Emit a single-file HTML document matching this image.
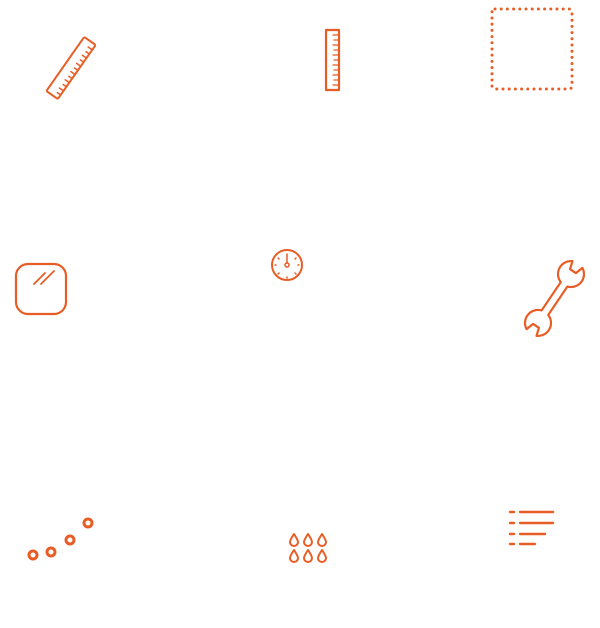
<!DOCTYPE html>
<html><head><style>html,body{margin:0;padding:0;background:#fff;width:600px;height:628px;overflow:hidden}</style></head>
<body>
<svg width="600" height="628" viewBox="0 0 600 628" xmlns="http://www.w3.org/2000/svg" fill="none" stroke="#e85d25" stroke-width="2" stroke-linecap="round" stroke-linejoin="round">
<!-- ruler 1 -->
<g transform="translate(71,68) rotate(35)">
<rect x="-7" y="-33" width="14" height="66" rx="1.5"/>
<g stroke-width="1.5">
<line x1="7" y1="-27" x2="2" y2="-27"/><line x1="7" y1="-22" x2="3" y2="-22"/>
<line x1="7" y1="-17" x2="2" y2="-17"/><line x1="7" y1="-12" x2="3" y2="-12"/>
<line x1="7" y1="-7" x2="2" y2="-7"/><line x1="7" y1="-2" x2="3" y2="-2"/>
<line x1="7" y1="3" x2="2" y2="3"/><line x1="7" y1="8" x2="3" y2="8"/>
<line x1="7" y1="13" x2="2" y2="13"/><line x1="7" y1="18" x2="3" y2="18"/>
<line x1="7" y1="23" x2="2" y2="23"/><line x1="7" y1="28" x2="3" y2="28"/>
</g></g>
<!-- ruler 2 -->
<rect x="326" y="30" width="13" height="60" stroke-width="2.2" stroke-linecap="butt"/>
<g stroke-width="1.3">
<line x1="338" y1="35" x2="333" y2="35"/><line x1="338" y1="40" x2="334" y2="40"/>
<line x1="338" y1="45" x2="333" y2="45"/><line x1="338" y1="50" x2="334" y2="50"/>
<line x1="338" y1="55" x2="333" y2="55"/><line x1="338" y1="60" x2="334" y2="60"/>
<line x1="338" y1="65" x2="333" y2="65"/><line x1="338" y1="70" x2="334" y2="70"/>
<line x1="338" y1="75" x2="333" y2="75"/><line x1="338" y1="80" x2="334" y2="80"/>
<line x1="338" y1="85" x2="333" y2="85"/>
</g>
<!-- dotted square -->
<rect x="492" y="9" width="80" height="80" rx="3" stroke-width="3" stroke-dasharray="0 6.2"/>
<!-- rounded square -->
<rect x="16" y="264" width="50" height="50" rx="12" stroke-width="2.2"/>
<line x1="34" y1="284" x2="45" y2="273" stroke-width="1.8"/>
<line x1="41" y1="284" x2="54" y2="271" stroke-width="1.8"/>
<!-- gauge -->
<circle cx="287" cy="265" r="15"/>
<circle cx="287" cy="265" r="2" stroke-width="1.5"/>
<line x1="287" y1="263" x2="287" y2="254" stroke-width="1.5"/>
<g stroke-width="1.5">
<line x1="278" y1="258" x2="279" y2="259"/><line x1="296" y1="258" x2="295" y2="259"/>
<line x1="275" y1="265" x2="276" y2="265"/><line x1="299" y1="265" x2="298" y2="265"/>
<line x1="278" y1="274" x2="279" y2="273"/><line x1="296" y1="274" x2="295" y2="273"/>
<line x1="287" y1="278" x2="287" y2="277"/>
</g>
<!-- wrench -->
<g transform="translate(554.5,298.5) rotate(34)">
<path d="M-6 -41 L-3.5 -33 L3.5 -33 L6 -41 A13 13 0 0 1 4 -17.1 L4 17.1 A13 13 0 0 1 6 41 L3.5 33 L-3.5 33 L-6 41 A13 13 0 0 1 -4 17.1 L-4 -17.1 A13 13 0 0 1 -6 -41 Z" stroke-width="2.2"/>
</g>
<!-- dots -->
<g stroke-width="3">
<circle cx="33" cy="555" r="4"/><circle cx="51" cy="552" r="4"/>
<circle cx="70" cy="540" r="4"/><circle cx="88" cy="523" r="4"/>
</g>
<!-- drops -->
<g stroke-width="2">
<path id="d" d="M294 534 Q290 540 290 542 A4 4 0 0 0 298 542 Q298 540 294 534 Z"/>
<use href="#d" x="14"/><use href="#d" x="28"/>
<use href="#d" y="16"/><use href="#d" x="14" y="16"/><use href="#d" x="28" y="16"/>
</g>
<!-- list lines -->
<g stroke-width="2.4">
<line x1="510" y1="512" x2="514" y2="512"/><line x1="520" y1="512" x2="553" y2="512"/>
<line x1="510" y1="523" x2="514" y2="523"/><line x1="520" y1="523" x2="553" y2="523"/>
<line x1="510" y1="534" x2="514" y2="534"/><line x1="520" y1="534" x2="545" y2="534"/>
<line x1="510" y1="544" x2="514" y2="544"/><line x1="520" y1="544" x2="535" y2="544"/>
</g>
</svg>
</body></html>
